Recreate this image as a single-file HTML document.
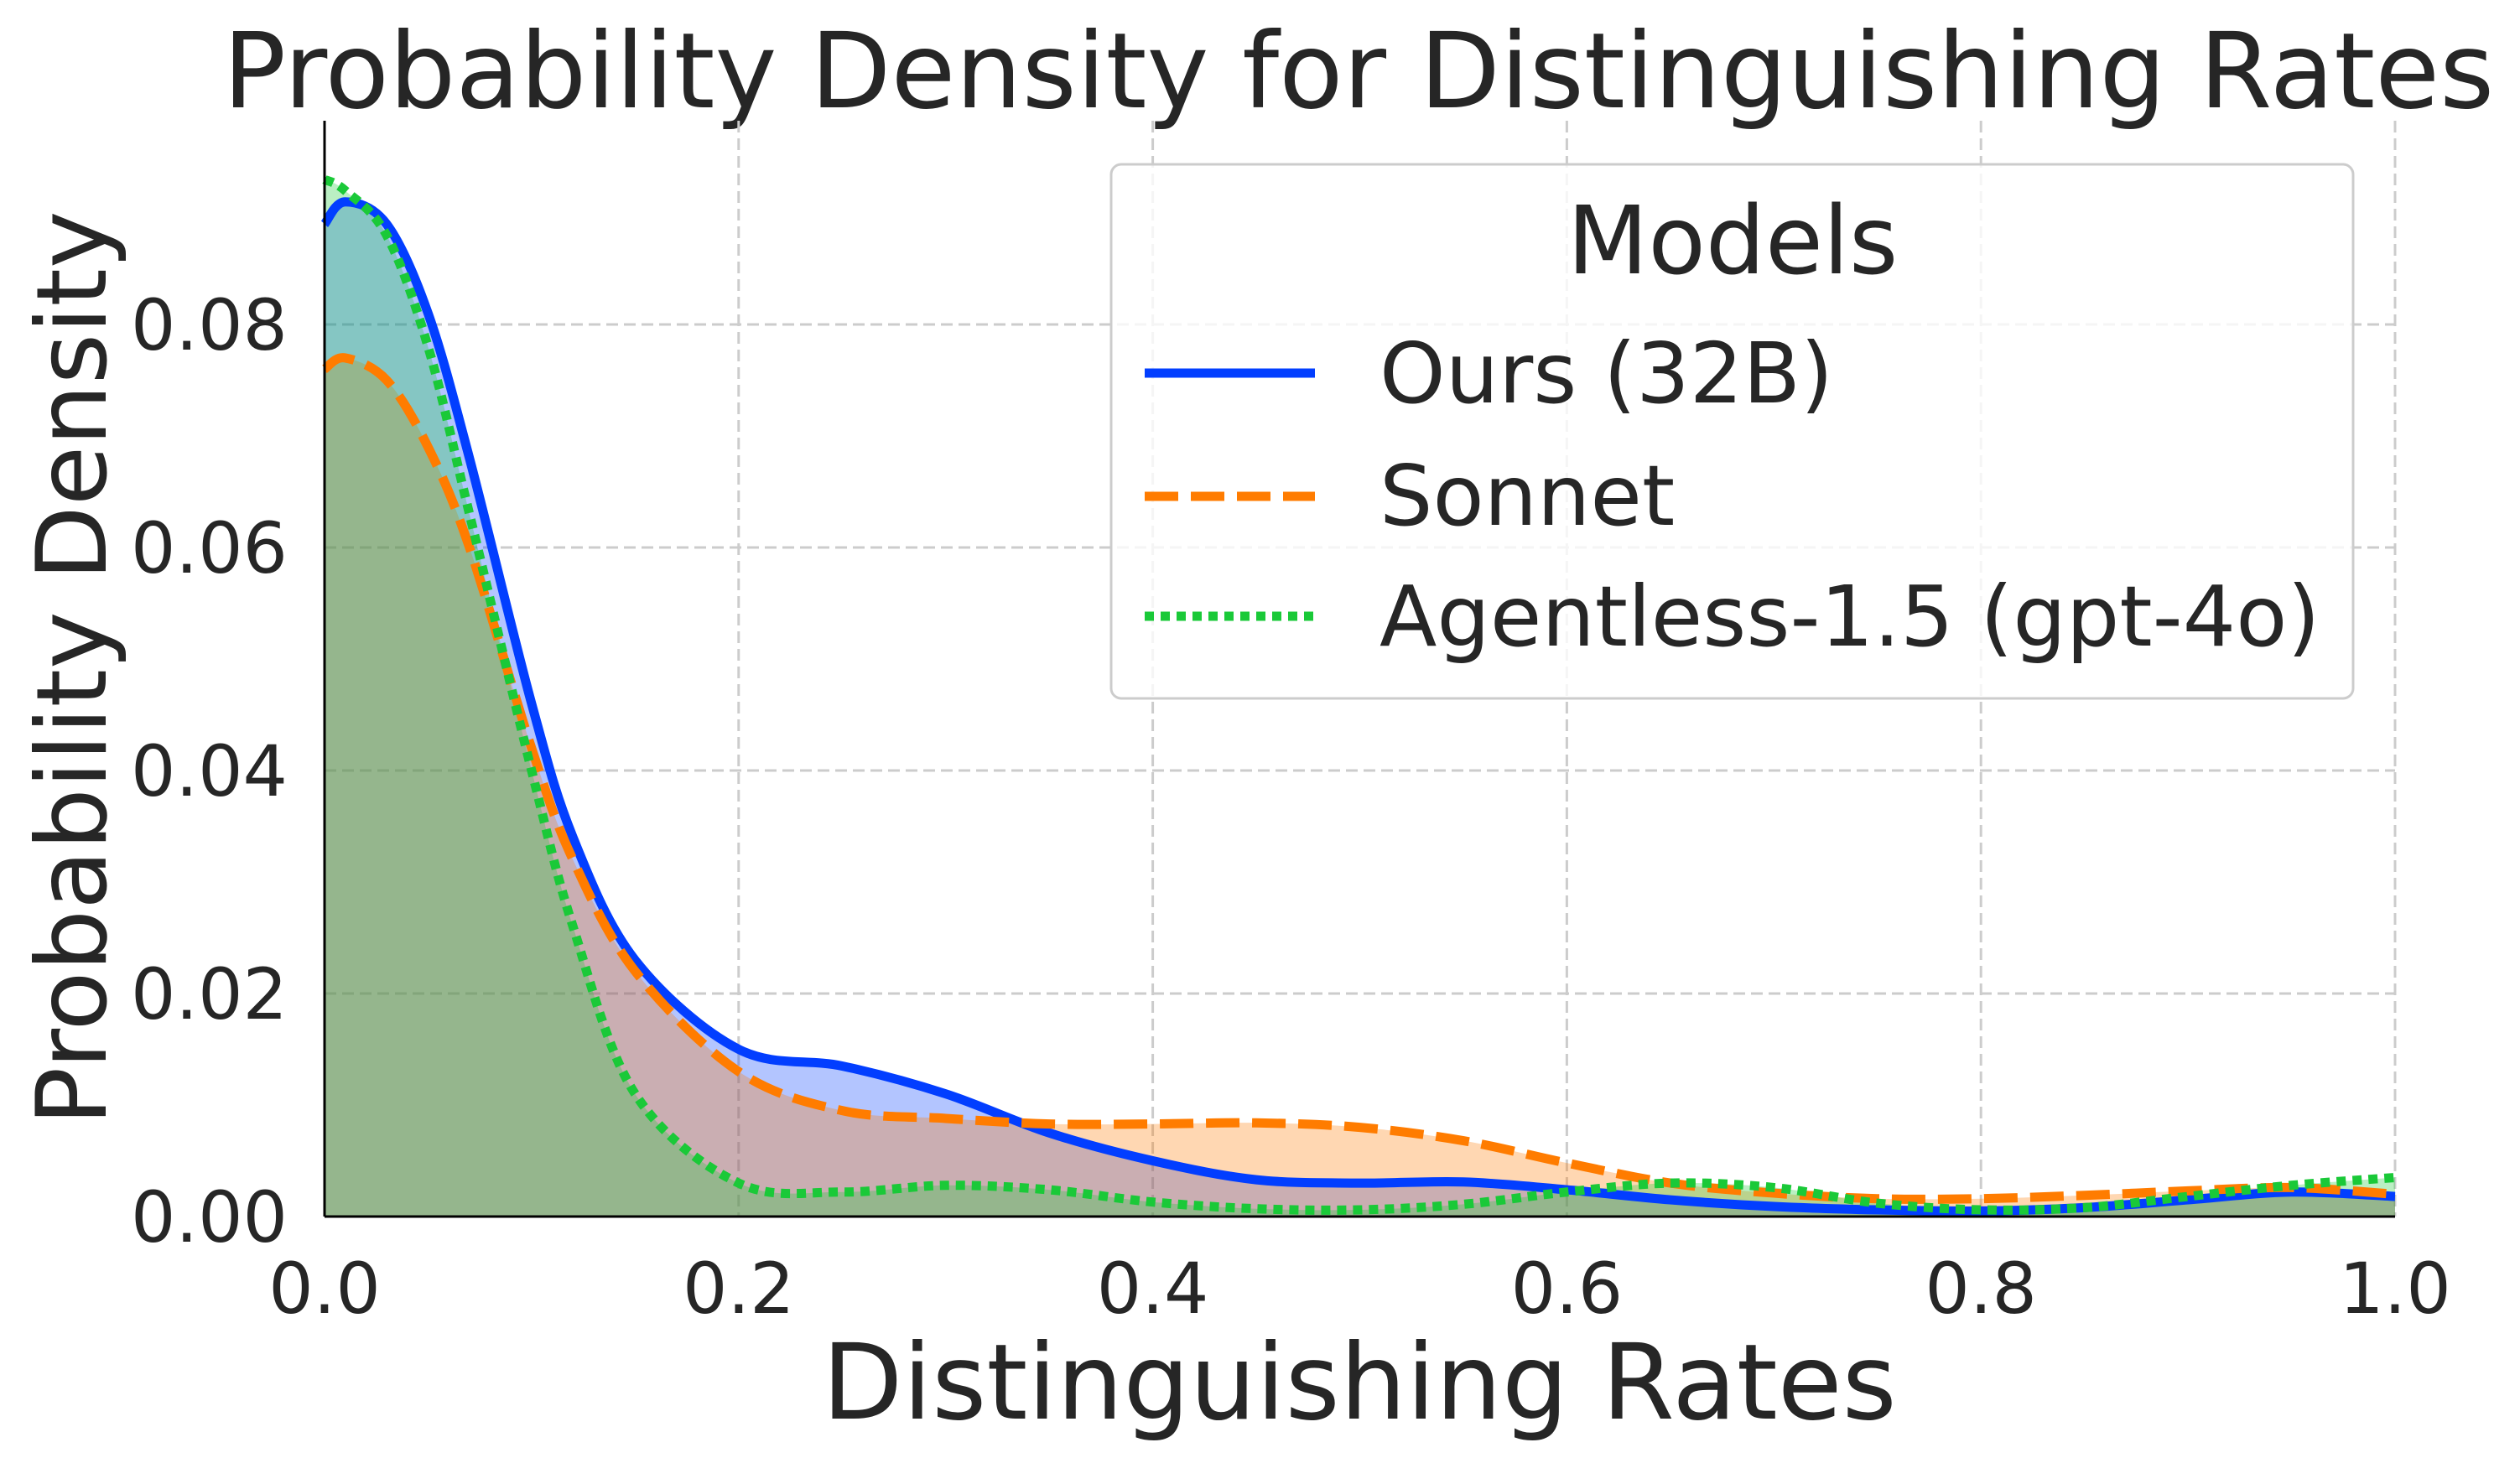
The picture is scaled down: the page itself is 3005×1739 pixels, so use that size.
<!DOCTYPE html>
<html><head><meta charset="utf-8"><style>
html,body{margin:0;padding:0;background:#fff;}
svg{display:block;font-family:"DejaVu Sans","Liberation Sans",sans-serif;}
</style></head><body>
<svg id="chart" width="3005" height="1739" viewBox="0 0 3005 1739" xmlns="http://www.w3.org/2000/svg">
<text x="1620" y="128" font-size="125" fill="#262626" text-anchor="middle">Probability Density for Distinguishing Rates</text>
<g id="grid"></g>
<g id="fills"></g>
<g id="lines"></g>
<line x1="387" y1="144" x2="387" y2="1451" stroke="#000" stroke-width="3"/>
<line x1="387" y1="1451" x2="2856" y2="1451" stroke="#000" stroke-width="3"/>
<g id="ticks"></g>
<text x="1621" y="1692" font-size="125" fill="#262626" text-anchor="middle">Distinguishing Rates</text>
<text transform="translate(126,797) rotate(-90)" font-size="116" fill="#262626" text-anchor="middle">Probability Density</text>
<g>
<rect x="1325" y="196" width="1481" height="637" rx="12" fill="#fff" fill-opacity="0.8" stroke="#ccc" stroke-width="3"/>
<text x="2066" y="326" font-size="112" fill="#262626" text-anchor="middle">Models</text>
<g>
<line x1="1365" y1="445" x2="1568" y2="445" stroke="#023eff" stroke-width="11"/>
<text x="1645" y="480" font-size="100" fill="#262626">Ours (32B)</text></g>
<g>
<line x1="1365" y1="592" x2="1568" y2="592" stroke="#ff7c00" stroke-width="11" stroke-dasharray="40,15"/>
<text x="1645" y="626" font-size="100" fill="#262626">Sonnet</text></g>
<g>
<line x1="1365" y1="735" x2="1568" y2="735" stroke="#1ac938" stroke-width="11" stroke-dasharray="11,8"/>
<text x="1645" y="770" font-size="100" fill="#262626">Agentless-1.5 (gpt-4o)</text></g>
</g>
</svg>
<script>
const xs = [0,0.01,0.03,0.05,0.07,0.1,0.12,0.15,0.2,0.25,0.3,0.35,0.4,0.45,0.5,0.55,0.6,0.65,0.7,0.75,0.8,0.85,0.9,0.95,1.0];
const ours = [0.089,0.091,0.089,0.081,0.068,0.046,0.034,0.023,0.015,0.0135,0.011,0.0075,0.005,0.0033,0.003,0.0031,0.0024,0.0015,0.0009,0.0006,0.0005,0.0008,0.0015,0.0022,0.0018];
const sonnet = [0.076,0.077,0.075,0.069,0.060,0.042,0.032,0.022,0.013,0.0095,0.0088,0.0083,0.0083,0.0084,0.008,0.0068,0.0048,0.003,0.0021,0.0016,0.0016,0.0019,0.0023,0.0026,0.002];
const agentless = [0.093,0.092,0.088,0.078,0.063,0.040,0.026,0.011,0.003,0.0022,0.0028,0.0024,0.0013,0.0007,0.0006,0.0011,0.0022,0.003,0.0026,0.0012,0.0006,0.0008,0.0018,0.0028,0.0035];
const xTicks = [0,0.2,0.4,0.6,0.8,1.0];
const xTickLabels = ["0.0","0.2","0.4","0.6","0.8","1.0"];
const yTicks = [0,0.02,0.04,0.06,0.08];
const yTickLabels = ["0.00","0.02","0.04","0.06","0.08"];

const NS="http://www.w3.org/2000/svg";
const X0=387,X1=2856,Y0=1451,Y8=387;
const sx=v=>X0+(X1-X0)*v;
const sy=v=>Y0-(Y0-Y8)*v/0.08;
function mk(tag,attrs,parent){const e=document.createElementNS(NS,tag);for(const k in attrs)e.setAttribute(k,attrs[k]);parent.appendChild(e);return e;}
const grid=document.getElementById('grid'),ticks=document.getElementById('ticks');
xTicks.forEach((t,i)=>{
  const l=mk('line',{x1:sx(t),x2:sx(t),y1:144,y2:Y0,stroke:'#cccccc','stroke-width':3,'stroke-dasharray':'14,7'},grid);
  
  
  const tx=mk('text',{x:sx(t),y:1566,'font-size':84,fill:'#262626','text-anchor':'middle'},ticks);
  tx.textContent=xTickLabels[i];
  
  
});
yTicks.forEach((t,i)=>{
  if(t>0){const l=mk('line',{x1:X0,x2:X1,y1:sy(t),y2:sy(t),stroke:'#cccccc','stroke-width':3,'stroke-dasharray':'14,7'},grid);
  
  }
  const tx=mk('text',{x:343,y:sy(t)+30,'font-size':84,fill:'#262626','text-anchor':'end'},ticks);
  tx.textContent=yTickLabels[i];
  
  
});
function pathD(vals){
  const p=xs.map((x,i)=>[sx(x),sy(vals[i])]);
  let d=`M${p[0][0]},${p[0][1]}`;
  for(let i=0;i<p.length-1;i++){
    const a=p[Math.max(0,i-1)],b=p[i],c=p[i+1],e=p[Math.min(p.length-1,i+2)];
    const c1=[b[0]+(c[0]-a[0])/6,b[1]+(c[1]-a[1])/6],c2=[c[0]-(e[0]-b[0])/6,c[1]-(e[1]-b[1])/6];
    d+=` C${c1[0]},${c1[1]} ${c2[0]},${c2[1]} ${c[0]},${c[1]}`;
  }
  return d;
}
const fills=document.getElementById('fills'),lines=document.getElementById('lines');
const series=[
  {v:ours,c:'#023eff',dash:'',n:'ours'},
  {v:sonnet,c:'#ff7c00',dash:'40,15',n:'sonnet'},
  {v:agentless,c:'#1ac938',dash:'11,8',n:'agentless'}
];
series.forEach(s=>{
  const d=pathD(s.v);
  const f=mk('path',{d:d+` L${X1},${Y0} L${X0},${Y0} Z`,fill:s.c,'fill-opacity':0.3,stroke:'none'},fills);
  
  
});
series.forEach(s=>{
  const l=mk('path',{d:pathD(s.v),fill:'none',stroke:s.c,'stroke-width':11},lines);
  if(s.dash)l.setAttribute('stroke-dasharray',s.dash);
  
  
});
</script>
</body></html>
